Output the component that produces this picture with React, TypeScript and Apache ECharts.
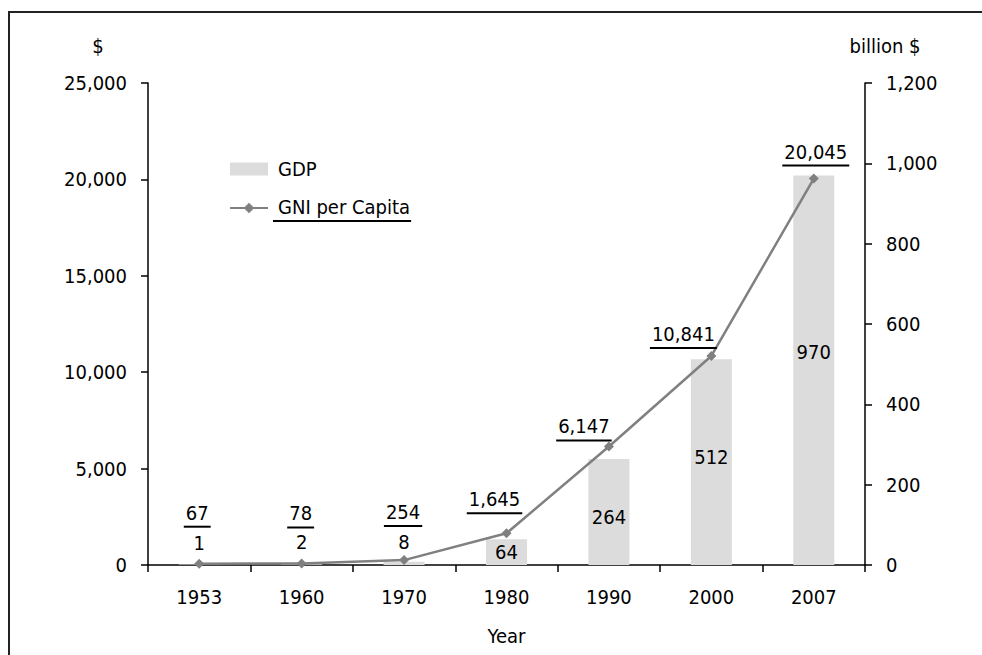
import React, { useEffect, useRef } from "react";
import * as echarts from "echarts";

const years = ["1953", "1960", "1970", "1980", "1990", "2000", "2007"];
const gdpBillion = [1, 2, 8, 64, 264, 512, 970];
const gniPerCapita = [67, 78, 254, 1645, 6147, 10841, 20045];

const leftAxis = { min: 0, max: 25000, interval: 5000 };
const rightAxis = { min: 0, max: 1200, interval: 200 };

// label placement tweaks (style only)
const gniLabelOffset = [[-2, -31], [-1, -30], [-1, -28], [-12, -14], [-25, 0], [-28, -2], [2, -7]];
const gdpLabelPosition = ["top", "top", "top", "inside", "inside", "inside", "inside"];
const gdpLabelDy = [-12, -12, -10, 0, 5, -5, -18];

const FONT = '"DejaVu Sans Condensed", "Liberation Sans Narrow", sans-serif';
const FS = 20;

const fmt = (n: number) => n.toLocaleString("en-US");

function measure(s: string): number {
  const c = document.createElement("canvas");
  const ctx = c.getContext("2d");
  if (!ctx) return s.length * 10;
  ctx.font = `${FS}px ${FONT}`;
  return ctx.measureText(s).width;
}

export default function App() {
  const ref = useRef<HTMLDivElement>(null);
  useEffect(() => {
    if (!ref.current) return;
    const chart = echarts.init(ref.current, undefined, { renderer: "svg" });

    const gniRich: any = {
      v: { fontSize: FS, fontFamily: FONT, color: "#000", lineHeight: 26, align: "center" },
    };
    gniPerCapita.forEach((v, i) => {
      gniRich["u" + i] = {
        width: measure(fmt(v)) + 4,
        height: 2,
        lineHeight: 2,
        fontSize: 2,
        backgroundColor: "#000",
        align: "center",
      };
    });

    const legendName = "GNI per Capita";
    const legendRich: any = {
      v: { fontSize: FS, fontFamily: FONT, color: "#000", lineHeight: 26, padding: [0, 0, 0, 5] },
      u: { width: measure(legendName) + 6, height: 2, lineHeight: 2, fontSize: 2, backgroundColor: "#000" },
    };

    const axisLine = { show: true, lineStyle: { color: "#000", width: 1.5 } };
    const axisTick = { show: true, inside: false, length: 7, lineStyle: { color: "#000", width: 1.5 } };

    chart.setOption({
      animation: false,
      textStyle: { fontFamily: FONT },
      grid: { left: 148, right: 117, top: 83, bottom: 90 },
      legend: {
        orient: "vertical",
        left: 224,
        top: 154,
        itemWidth: 38,
        itemHeight: 13,
        itemGap: 18,
        data: [{ name: "GDP", icon: "rect" }, { name: legendName }],
        formatter: (name: string) => (name === legendName ? `{v|${name}}\n{u| }` : `{v|${name}}`),
        textStyle: { fontSize: FS, fontFamily: FONT, color: "#000", rich: legendRich },
      },
      graphic: [
        {
          type: "rect",
          shape: { x: 9, y: 12, width: 1100, height: 800 },
          style: { fill: "none", stroke: "#222", lineWidth: 2 },
          silent: true,
        },
      ],
      xAxis: {
        type: "category",
        data: years,
        name: "Year",
        nameLocation: "middle",
        nameGap: 61,
        nameTextStyle: { fontSize: FS, fontFamily: FONT, color: "#000" },
        axisLine,
        axisTick,
        axisLabel: { fontSize: FS, fontFamily: FONT, color: "#000", margin: 22 },
      },
      yAxis: [
        {
          type: "value",
          position: "left",
          min: leftAxis.min,
          max: leftAxis.max,
          interval: leftAxis.interval,
          name: "$",
          nameLocation: "end",
          nameGap: 27,
          nameTextStyle: { fontSize: FS, fontFamily: FONT, color: "#000", padding: [0, 100, 0, 0] },
          axisLine,
          axisTick,
          splitLine: { show: false },
          axisLabel: { fontSize: FS, fontFamily: FONT, color: "#000", margin: 21, formatter: (v: number) => fmt(v) },
        },
        {
          type: "value",
          position: "right",
          min: rightAxis.min,
          max: rightAxis.max,
          interval: rightAxis.interval,
          name: "billion $",
          nameLocation: "end",
          nameGap: 27,
          nameTextStyle: { fontSize: FS, fontFamily: FONT, color: "#000", padding: [0, 0, 0, 40] },
          axisLine,
          axisTick,
          splitLine: { show: false },
          axisLabel: { fontSize: FS, fontFamily: FONT, color: "#000", margin: 21, formatter: (v: number) => fmt(v) },
        },
      ],
      series: [
        {
          name: "GDP",
          type: "bar",
          yAxisIndex: 1,
          barWidth: 41,
          itemStyle: { color: "#dcdcdc" },
          data: gdpBillion.map((v, i) => ({
            value: v,
            label: { position: gdpLabelPosition[i], offset: [0, gdpLabelDy[i]] },
          })),
          label: {
            show: true,
            distance: 0,
            fontSize: FS,
            fontFamily: FONT,
            color: "#000",
            formatter: (p: any) => fmt(p.value),
          },
          z: 1,
        },
        {
          name: legendName,
          type: "line",
          yAxisIndex: 0,
          symbol: "diamond",
          symbolSize: 10,
          lineStyle: { color: "#808080", width: 2.5 },
          itemStyle: { color: "#808080" },
          data: gniPerCapita.map((v, i) => ({
            value: v,
            label: { offset: gniLabelOffset[i] },
          })),
          label: {
            show: true,
            position: "top",
            distance: 0,
            formatter: (p: any) => `{v|${fmt(p.value)}}\n{u${p.dataIndex}| }`,
            rich: gniRich,
          },
          z: 3,
        },
      ],
    });
    return () => chart.dispose();
  }, []);

  return (
    <div
      ref={ref}
      style={{ position: "fixed", left: 0, top: 0, width: 982, height: 655, background: "#fff" }}
    />
  );
}
